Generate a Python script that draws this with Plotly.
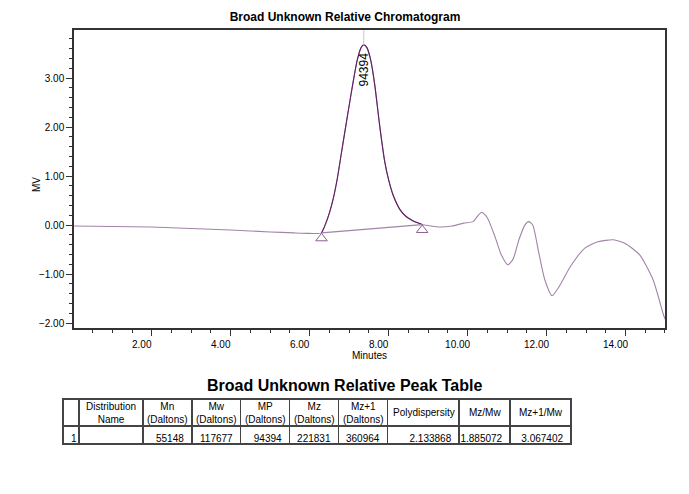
import plotly.graph_objects as go

# chromatogram trace (minutes, MV)
minutes = [0.0, 1.0, 2.0, 3.0, 4.0, 5.0, 5.6, 6.0, 6.3,
           6.40, 6.50, 6.60, 6.70, 6.80, 6.91, 7.05, 7.2, 7.3, 7.37, 7.45, 7.55,
           7.65, 7.77, 7.9, 8.0, 8.11, 8.3, 8.45, 8.61, 8.75, 8.85,
           9.0, 9.3, 9.6, 9.9, 10.14, 10.25, 10.36, 10.5, 10.7, 10.85,
           11.02, 11.15, 11.3, 11.45, 11.55, 11.65, 11.8, 11.95, 12.14, 12.33,
           12.6, 12.97, 13.3, 13.69, 14.0, 14.36, 14.7, 14.95, 15.0]
mv = [-0.02, -0.03, -0.04, -0.07, -0.10, -0.14, -0.16, -0.17, -0.16,
      0.02, 0.25, 0.55, 0.95, 1.45, 2.00, 2.68, 3.35, 3.62, 3.68, 3.62, 3.35,
      2.85, 2.05, 1.30, 0.92, 0.62, 0.30, 0.17, 0.09, 0.04, 0.01,
      -0.01, -0.04, -0.02, 0.04, 0.07, 0.18, 0.26, 0.15, -0.25, -0.60,
      -0.81, -0.70, -0.30, 0.00, 0.07, 0.00, -0.55, -1.10, -1.44, -1.24,
      -0.85, -0.47, -0.34, -0.30, -0.38, -0.61, -1.12, -1.80, -1.92]

peak_start, peak_end = 8, 30        # indices of the integrated peak
peak_time, peak_mv = 7.37, 3.68
peak_label = "94394"
marker_times = [6.30, 8.85]
marker_mv = [-0.27, -0.10]
baseline_mv = [-0.16, 0.01]

table_title = "Broad Unknown Relative Peak Table"
headers = ["", "Distribution<br>Name", "Mn<br>(Daltons)", "Mw<br>(Daltons)",
           "MP<br>(Daltons)", "Mz<br>(Daltons)", "Mz+1<br>(Daltons)",
           "Polydispersity", "Mz/Mw", "Mz+1/Mw"]
row = ["1", "", "55148", "117677", "94394", "221831", "360964",
       "2.133868", "1.885072", "3.067402"]
col_widths = [16, 64, 49, 49, 49, 49, 49, 72, 51, 61]

light = "#a283aa"
dark = "#5e1f60"
font = "Liberation Sans, Arial, sans-serif"

fig = go.Figure()

# full trace
fig.add_trace(go.Scatter(x=minutes, y=mv, mode="lines",
                         line=dict(color=light, width=1.1, shape="spline", smoothing=0.6),
                         hoverinfo="x+y"))
# integrated peak in a darker colour
fig.add_trace(go.Scatter(x=minutes[peak_start:peak_end + 1], y=mv[peak_start:peak_end + 1],
                         mode="lines",
                         line=dict(color=dark, width=1.1, shape="spline", smoothing=0.6)))
# drop baseline under the peak
fig.add_trace(go.Scatter(x=marker_times, y=baseline_mv, mode="lines",
                         line=dict(color=light, width=1.1)))
# start / end triangles
fig.add_trace(go.Scatter(x=marker_times, y=marker_mv, mode="markers",
                         marker=dict(symbol="triangle-up-open", size=10,
                                     color="#8a5f92", line=dict(width=1))))
# apex marker line and label
fig.add_trace(go.Scatter(x=[peak_time, peak_time], y=[peak_mv, 3.98], mode="lines",
                         line=dict(color="#c8c8c8", width=1)))
fig.add_annotation(x=peak_time, y=peak_mv, text=peak_label, textangle=-90,
                   showarrow=False, yanchor="top", xanchor="center", yshift=-6,
                   font=dict(family=font, size=12, color="black"))

# the page body has an 8px margin, so the figure is laid out 8px up/left
# peak table (headers drawn as annotations so each line is centred)
tx0, tx1 = 0.0681, 0.8381
fig.add_trace(go.Table(
    domain=dict(x=[tx0, tx1], y=[0.0, 0.1824]),
    columnwidth=col_widths,
    header=dict(values=[""] * len(headers), height=27,
                line=dict(color="#444444", width=1.5), fill_color="white"),
    cells=dict(values=[[v] for v in row], height=18,
               align=["left"] + ["right"] * 9,
               line=dict(color="#444444", width=1.5), fill_color="white",
               font=dict(family=font, size=10, color="black")),
))
total = sum(col_widths)
left = 0
for w, h in zip(col_widths, headers):
    cx = tx0 + (tx1 - tx0) * (left + w / 2) / total
    left += w
    if h:
        fig.add_annotation(text=h, xref="paper", yref="paper", x=cx, y=0.1534,
                           showarrow=False, xanchor="center", yanchor="middle",
                           align="center",
                           font=dict(family=font, size=10, color="black"))
fig.add_annotation(text="<b>" + table_title + "</b>", xref="paper", yref="paper",
                   x=0.4947, y=0.2124, showarrow=False, yanchor="middle",
                   xanchor="center", font=dict(family=font, size=16, color="black"))

# y axis title
fig.add_annotation(text="MV", xref="paper", yref="paper", x=0.0287, y=0.6438,
                   textangle=-90, showarrow=False, xanchor="center", yanchor="middle",
                   font=dict(family=font, size=10, color="black"))

axis_style = dict(showline=True, linecolor="#333333", linewidth=1.5, mirror=True,
                  ticks="outside", ticklen=6, tickcolor="#333333", showgrid=False,
                  zeroline=False, tickformat=".2f", automargin=False,
                  tickfont=dict(family=font, size=10, color="black"))

fig.update_layout(
    width=681, height=486,
    margin=dict(l=10, r=10, t=10, b=10),
    paper_bgcolor="white", plot_bgcolor="white",
    showlegend=False,
    title=dict(text="<b>Broad Unknown Relative Chromatogram</b>", x=0.4949, xanchor="center",
               y=0.9815, yanchor="middle", font=dict(family=font, size=12, color="black")),
    xaxis=dict(domain=[0.0847, 0.9788], range=[0.03, 15], dtick=2, tick0=0,
               ticklabelshift=-10,
               minor=dict(dtick=0.5, ticks="outside", ticklen=3, tickcolor="#333333"),
               title=dict(text="Minutes", font=dict(family=font, size=10, color="black"),
                          standoff=3),
               **axis_style),
    yaxis=dict(domain=[0.3348, 0.9742], range=[-2.1, 3.98], dtick=1, tick0=0,
               minor=dict(dtick=0.2, ticks="outside", ticklen=3, tickcolor="#333333"),
               **axis_style),
)

fig.write_html("out.html")
